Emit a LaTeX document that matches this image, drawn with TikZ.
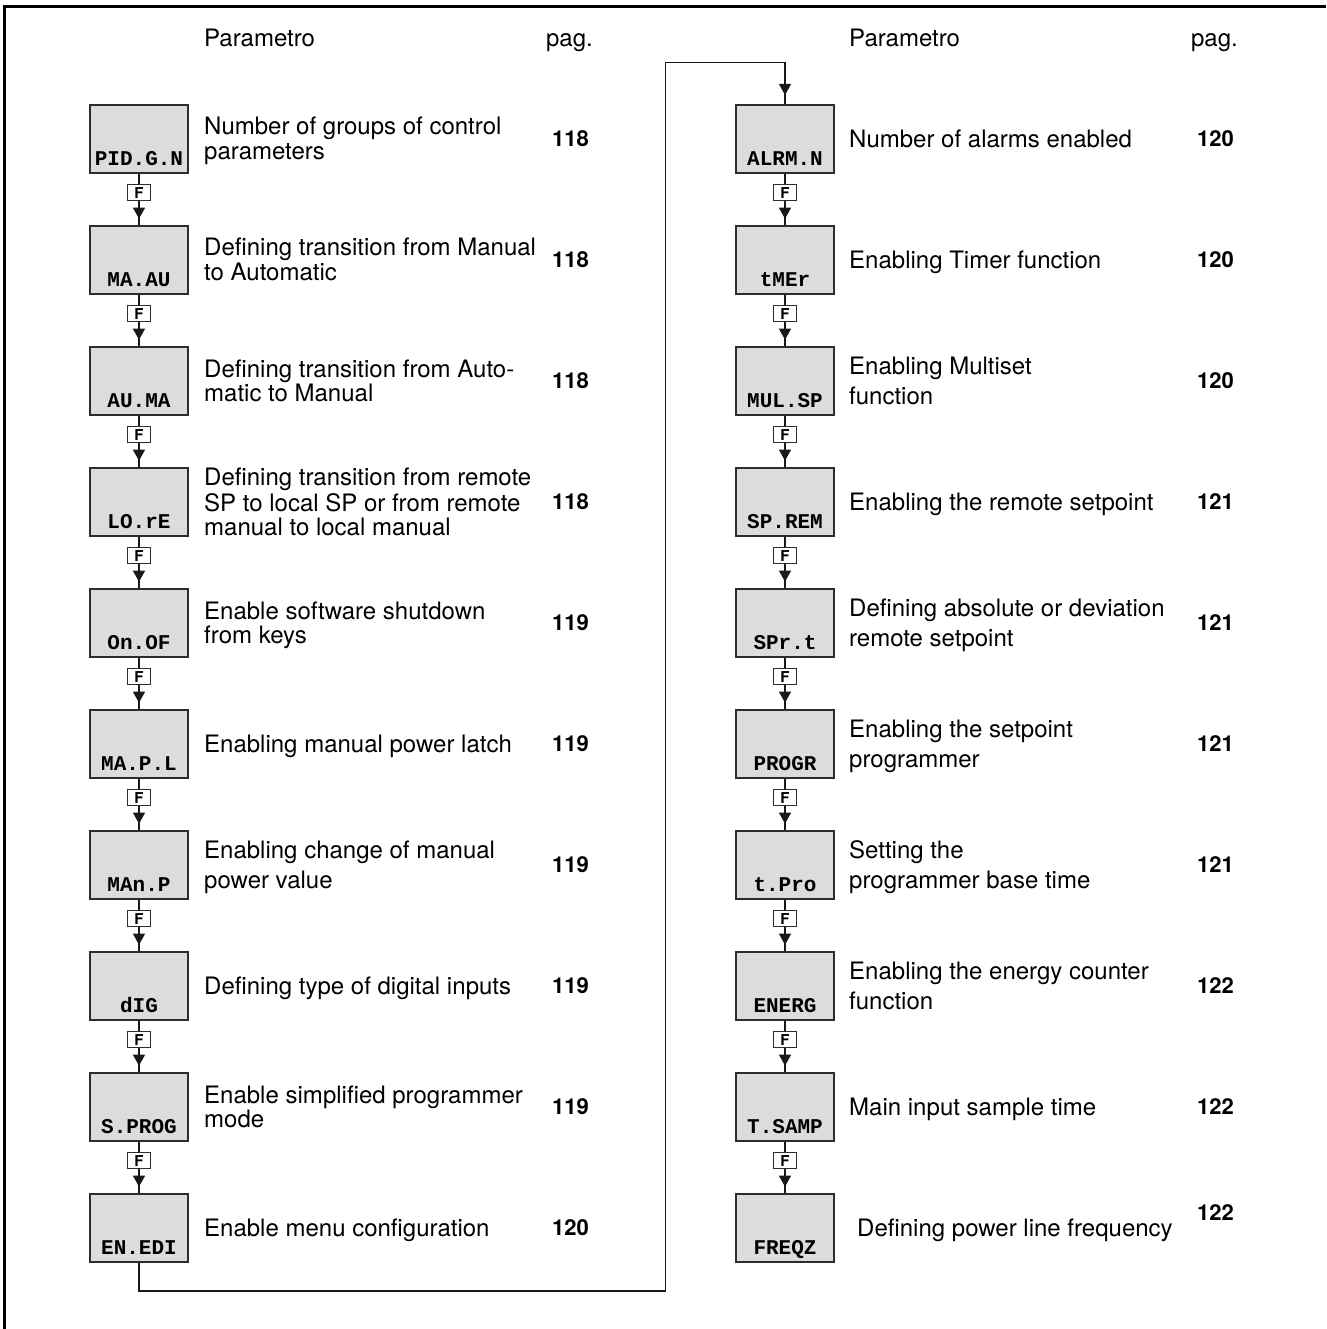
\documentclass[tikz,border=0pt]{standalone}
\usepackage{fontspec}
\setmainfont{TeX Gyre Heros}
\setmonofont{Liberation Mono}
\usetikzlibrary{arrows.meta}
\definecolor{boxgray}{RGB}{220,220,220}
\definecolor{boxline}{RGB}{45,45,45}
\newcommand\dtab[2]{\fontsize{24}{#1}\selectfont\begin{tabular}[t]{@{}l@{}}#2\end{tabular}}
% #1 name, #2 x, #3 y centre, #4 label
\newcommand\punit[4]{%
  \node[pbox] (#1) at (#2,#3) {};
  \node[plab] (#1t) at ([yshift=7.7pt]#1.south) {#4};}
\newcommand\fstep[2]{%
  \node[fbox] (#1f) at ([yshift=-19pt]#1.south) {F};
  \draw[conn] (#1.south) -- (#1f.north);
  \draw[conn] (#1f.south) -- (#2.north);
  \draw[conn,tip] (#1f.south) -- ++(0,17.6);}
% #1 name, #2 x, #3 centre y, #4 lines-1, #5 spacing, #6 text
\newcommand\pdesc[6]{%
  \node[desc] (#1) at (#2,{#3-(#4*#5-16.5)/2}) {\dtab{#5}{#6}};}
\begin{document}
\begin{tikzpicture}[x=1pt,y=-1pt,
  pbox/.style={draw=boxline,fill=boxgray,line width=1.2pt,minimum width=98pt,minimum height=68pt,inner sep=0pt},
  plab/.style={anchor=base,inner sep=0pt,font=\ttfamily\bfseries\fontsize{21}{21}\selectfont},
  fbox/.style={draw=boxline,fill=white,line width=1pt,minimum width=22.5pt,minimum height=16pt,inner sep=0pt,font=\bfseries\fontsize{15}{15}\selectfont},
  conn/.style={draw=black!90,line width=1.2pt},
  tip/.style={-{Triangle[width=12pt,length=11pt]}},
  desc/.style={anchor=base west,inner sep=0pt},
  pag/.style={anchor=east,inner sep=0pt,font=\bfseries\fontsize{22}{22}\selectfont},
  hdr/.style={inner sep=0pt,font=\fontsize{24}{24}\selectfont}]
\useasboundingbox (0,0) rectangle (1326,1329);
\draw[line width=3pt] (4.7,1329) -- (4.7,6.5) -- (1326,6.5);
% headers
\node[hdr,anchor=base west] (h1) at (204,47) {Parametro};
\node[hdr,anchor=base east] (h2) at (593,47) {pag.};
\node[hdr,anchor=base west] (h3) at (849,47) {Parametro};
\node[hdr,anchor=base east] (h4) at (1238,47) {pag.};
% left column boxes
\punit{L1}{139}{139}{PID.G.N}
\punit{L2}{139}{260}{MA.AU}
\punit{L3}{139}{381}{AU.MA}
\punit{L4}{139}{502}{LO.rE}
\punit{L5}{139}{623}{On.OF}
\punit{L6}{139}{744}{MA.P.L}
\punit{L7}{139}{865}{MAn.P}
\punit{L8}{139}{986}{dIG}
\punit{L9}{139}{1107}{S.PROG}
\punit{L10}{139}{1228}{EN.EDI}
% right column boxes
\punit{R1}{785}{139}{ALRM.N}
\punit{R2}{785}{260}{tMEr}
\punit{R3}{785}{381}{MUL.SP}
\punit{R4}{785}{502}{SP.REM}
\punit{R5}{785}{623}{SPr.t}
\punit{R6}{785}{744}{PROGR}
\punit{R7}{785}{865}{t.Pro}
\punit{R8}{785}{986}{ENERG}
\punit{R9}{785}{1107}{T.SAMP}
\punit{R10}{785}{1228}{FREQZ}
% F steps
\fstep{L1}{L2}\fstep{L2}{L3}\fstep{L3}{L4}\fstep{L4}{L5}\fstep{L5}{L6}
\fstep{L6}{L7}\fstep{L7}{L8}\fstep{L8}{L9}\fstep{L9}{L10}
\fstep{R1}{R2}\fstep{R2}{R3}\fstep{R3}{R4}\fstep{R4}{R5}\fstep{R5}{R6}
\fstep{R6}{R7}\fstep{R7}{R8}\fstep{R8}{R9}\fstep{R9}{R10}
% loop connector
\coordinate (lb) at (665.7,1291);
\coordinate (lt) at (665.7,62.7);
\draw[conn] (L10.south) |- (lb) -- (lt) -| (R1.north);
\draw[conn,tip] (lt -| R1.north) -- ++(0,32.3);
% left descriptions
\pdesc{L1d}{204}{139}{1}{24.5}{Number of groups of control\\parameters}
\pdesc{L2d}{204}{260}{1}{24.5}{Defining transition from Manual\\to Automatic}
\pdesc{L3d}{204}{381}{1}{24.5}{Defining transition from Auto-\\matic to Manual}
\pdesc{L4d}{204}{502}{2}{24.5}{Defining transition from remote\\SP to local SP or from remote\\manual to local manual}
\pdesc{L5d}{204}{623}{1}{24.5}{Enable software shutdown\\from keys}
\pdesc{L6d}{204}{744}{0}{24.5}{Enabling manual power latch}
\pdesc{L7d}{204}{865}{1}{30}{Enabling change of manual\\power value}
\pdesc{L8d}{204}{986}{0}{24.5}{Defining type of digital inputs}
\pdesc{L9d}{204}{1107}{1}{24.5}{Enable simplified programmer\\mode}
\pdesc{L10d}{204}{1228}{0}{24.5}{Enable menu configuration}
% right descriptions
\pdesc{R1d}{849}{139}{0}{24.5}{Number of alarms enabled}
\pdesc{R2d}{849}{260}{0}{24.5}{Enabling Timer function}
\pdesc{R3d}{849}{381}{1}{30}{Enabling Multiset\\function}
\pdesc{R4d}{849}{502}{0}{24.5}{Enabling the remote setpoint}
\pdesc{R5d}{849}{623}{1}{30}{Defining absolute or deviation\\remote setpoint}
\pdesc{R6d}{849}{744}{1}{30}{Enabling the setpoint\\programmer}
\pdesc{R7d}{849}{865}{1}{30}{Setting the\\programmer base time}
\pdesc{R8d}{849}{986}{1}{30}{Enabling the energy counter\\function}
\pdesc{R9d}{849}{1107}{0}{24.5}{Main input sample time}
\pdesc{R10d}{857}{1228}{0}{24.5}{Defining power line frequency}
% page numbers
\node[pag] (L1p) at (589,139) {118};
\node[pag] (L2p) at (589,260) {118};
\node[pag] (L3p) at (589,381) {118};
\node[pag] (L4p) at (589,502) {118};
\node[pag] (L5p) at (589,623) {119};
\node[pag] (L6p) at (589,744) {119};
\node[pag] (L7p) at (589,865) {119};
\node[pag] (L8p) at (589,986) {119};
\node[pag] (L9p) at (589,1107) {119};
\node[pag] (L10p) at (589,1228) {120};
\node[pag] (R1p) at (1234,139) {120};
\node[pag] (R2p) at (1234,260) {120};
\node[pag] (R3p) at (1234,381) {120};
\node[pag] (R4p) at (1234,502) {121};
\node[pag] (R5p) at (1234,623) {121};
\node[pag] (R6p) at (1234,744) {121};
\node[pag] (R7p) at (1234,865) {121};
\node[pag] (R8p) at (1234,986) {122};
\node[pag] (R9p) at (1234,1107) {122};
\node[pag] (R10p) at (1234,1213) {122};
\end{tikzpicture}
\end{document}
